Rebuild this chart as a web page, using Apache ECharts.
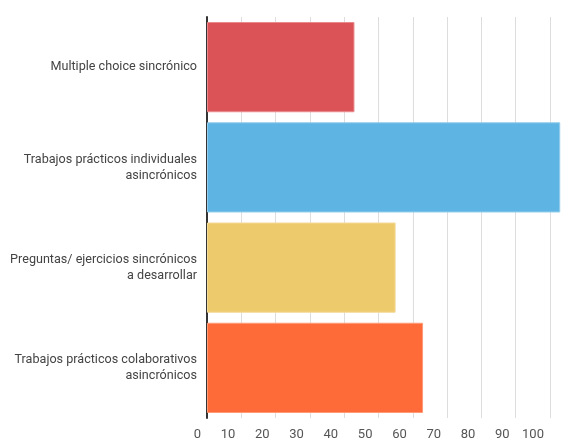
<!DOCTYPE html>
<html>
<head>
<meta charset="utf-8">
<script src="https://cdn.jsdelivr.net/npm/echarts@6/dist/echarts.min.js"></script>
<style>
html,body{margin:0;padding:0;background:#fff;}
#chart{width:576px;height:441px;}
</style>
</head>
<body>
<div id="chart"></div>
<script>
const categories = [
  "Multiple choice sincrónico",
  "Trabajos prácticos individuales\nasincrónicos",
  "Preguntas/ ejercicios sincrónicos\na desarrollar",
  "Trabajos prácticos colaborativos\nasincrónicos"
];
const values = [43, 103, 55, 63];
const barColors = ["#db5356", "#5eb5e3", "#edca6c", "#fe6a38"];
const borderColors = ["#e88a8c", "#94cdec", "#f3da98", "#fe9a76"];
// visible part of a 0–110 axis (the chart is cropped at the right edge)
const xTicks = { min: 0, max: 107.6, interval: 10 };

const chart = echarts.init(document.getElementById('chart'), null, { renderer: 'canvas' });
chart.setOption({
  animation: false,
  backgroundColor: '#ffffff',
  grid: { left: 207, right: 0, top: 17, bottom: 23, containLabel: false },
  xAxis: {
    type: 'value',
    min: xTicks.min, max: xTicks.max, interval: xTicks.interval,
    axisLine: { show: false },
    axisTick: { show: false },
    splitLine: { show: true, lineStyle: { color: '#dddddd', width: 1 } },
    axisLabel: {
      color: '#555555', fontFamily: 'Roboto', fontSize: 13,
      align: 'right', padding: [0, 6, 0, 0], margin: 10,
      showMaxLabel: false
    }
  },
  yAxis: {
    type: 'category',
    inverse: true,
    data: categories,
    axisLine: { show: true, lineStyle: { color: '#333333', width: 2 } },
    axisTick: { show: false },
    axisLabel: {
      color: '#444444', fontFamily: 'Roboto', fontSize: 12.6, margin: 10,
      align: 'right', lineHeight: 16
    }
  },
  series: [{
    type: 'bar',
    barCategoryGap: '10%',
    data: values.map((v, i) => ({
      value: v,
      itemStyle: { color: barColors[i], borderColor: borderColors[i], borderWidth: 1 }
    }))
  }]
});
</script>
</body>
</html>
